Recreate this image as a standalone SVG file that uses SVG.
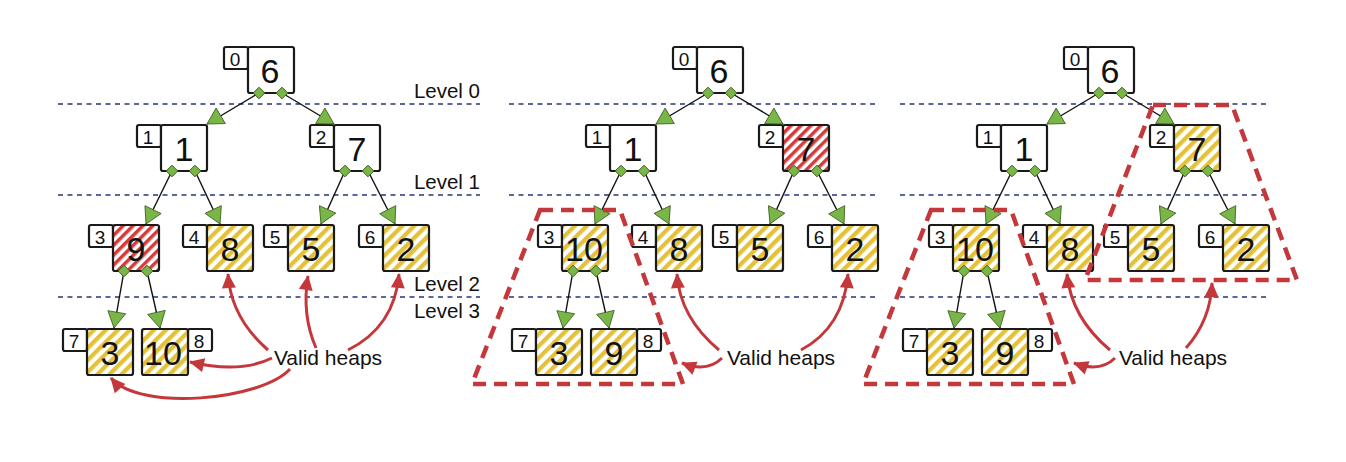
<svg xmlns="http://www.w3.org/2000/svg" width="1346" height="462" viewBox="0 0 1346 462">
<style>
.idx{fill:#fff;stroke:#1a1a1a;stroke-width:2.2}
.box{stroke:#1a1a1a;stroke-width:2.2}
.w{fill:#fff}
.y{fill:url(#hy)}
.r{fill:url(#hr)}
.it{font-family:"Liberation Sans",Arial,sans-serif;font-size:19px;fill:#111;text-anchor:middle}
.vt{font-family:"Liberation Sans",Arial,sans-serif;font-size:34px;fill:#111;text-anchor:middle}
.lbl{font-family:"Liberation Sans",Arial,sans-serif;font-size:20.5px;fill:#111;text-anchor:end}
.vh{font-family:"Liberation Sans",Arial,sans-serif;font-size:21px;fill:#111;text-anchor:middle}
.edge{stroke:#111;stroke-width:1.4;fill:none;marker-start:url(#dia);marker-end:url(#tri)}
.lvl{stroke:#27357a;stroke-width:1.6;stroke-dasharray:5 4.5;fill:none}
.ann{stroke:#c4373a;stroke-width:3;fill:none;marker-end:url(#rarr)}
.trap{stroke:#c4373a;stroke-width:4.5;stroke-dasharray:13 8;fill:none}
</style>
<defs>
<pattern id="hy" patternUnits="userSpaceOnUse" width="8.5" height="8.5" patternTransform="rotate(45)">
<rect width="8.5" height="8.5" fill="#fff"/><rect width="4.3" height="8.5" fill="#e3c23a"/>
</pattern>
<pattern id="hr" patternUnits="userSpaceOnUse" width="7" height="7" patternTransform="rotate(45)">
<rect width="7" height="7" fill="#fff"/><rect width="3.5" height="7" fill="#d23c3c"/>
</pattern>
<marker id="dia" markerUnits="userSpaceOnUse" viewBox="-7 -7 14 14" markerWidth="14" markerHeight="14" refX="0" refY="0" orient="0" overflow="visible">
<path d="M0,-5.8 L5.8,0 L0,5.8 L-5.8,0 Z" fill="#7ab547" stroke="#3b5f1f" stroke-width="1"/>
</marker>
<marker id="tri" markerUnits="userSpaceOnUse" viewBox="0 0 17 18" markerWidth="17" markerHeight="18" refX="16" refY="9" orient="auto" overflow="visible">
<path d="M0,0 L16,9 L0,18 Z" fill="#7ab547" stroke="#3b5f1f" stroke-width="0.8"/>
</marker>
<marker id="rarr" markerUnits="userSpaceOnUse" viewBox="0 0 15 14" markerWidth="15" markerHeight="14" refX="14" refY="7" orient="auto" overflow="visible">
<path d="M0,0 L15,7 L0,14 Z" fill="#c4373a"/>
</marker>
</defs>

<g id="level-lines">
<line class="lvl" x1="58" y1="104" x2="480" y2="104"/>
<line class="lvl" x1="58" y1="195" x2="480" y2="195"/>
<line class="lvl" x1="58" y1="297" x2="480" y2="297"/>
<line class="lvl" x1="509" y1="104" x2="878" y2="104"/>
<line class="lvl" x1="509" y1="195" x2="878" y2="195"/>
<line class="lvl" x1="509" y1="297" x2="878" y2="297"/>
<line class="lvl" x1="900" y1="104" x2="1268" y2="104"/>
<line class="lvl" x1="900" y1="195" x2="1268" y2="195"/>
<line class="lvl" x1="900" y1="297" x2="1268" y2="297"/>
</g>
<g id="level-labels">
<text class="lbl" x="480" y="98">Level 0</text>
<text class="lbl" x="480" y="189">Level 1</text>
<text class="lbl" x="480" y="291">Level 2</text>
<text class="lbl" x="480" y="318">Level 3</text>
</g>

<!-- Panel 1 -->
<g id="panel1">
<g id="p1-n0"><rect class="idx" x="224" y="47" width="24" height="22" rx="2"/><text class="it" x="235" y="66">0</text><rect class="box w" x="248" y="47" width="46" height="46" rx="2"/><text class="vt" x="270" y="83">6</text></g>
<g id="p1-n1"><rect class="idx" x="137" y="125" width="24" height="22" rx="2"/><text class="it" x="148" y="144">1</text><rect class="box w" x="161" y="125" width="46" height="46" rx="2"/><text class="vt" x="184" y="161">1</text></g>
<g id="p1-n2"><rect class="idx" x="310" y="125" width="24" height="22" rx="2"/><text class="it" x="321" y="144">2</text><rect class="box w" x="334" y="125" width="46" height="46" rx="2"/><text class="vt" x="357" y="161">7</text></g>
<g id="p1-n3"><rect class="idx" x="89" y="225" width="24" height="22" rx="2"/><text class="it" x="100" y="244">3</text><rect class="box r" x="113" y="225" width="46" height="46" rx="2"/><text class="vt" x="136" y="261">9</text></g>
<g id="p1-n4"><rect class="idx" x="183" y="225" width="24" height="22" rx="2"/><text class="it" x="194" y="244">4</text><rect class="box y" x="207" y="225" width="46" height="46" rx="2"/><text class="vt" x="230" y="261">8</text></g>
<g id="p1-n5"><rect class="idx" x="264" y="225" width="24" height="22" rx="2"/><text class="it" x="275" y="244">5</text><rect class="box y" x="288" y="225" width="46" height="46" rx="2"/><text class="vt" x="311" y="261">5</text></g>
<g id="p1-n6"><rect class="idx" x="359" y="225" width="24" height="22" rx="2"/><text class="it" x="370" y="244">6</text><rect class="box y" x="383" y="225" width="46" height="46" rx="2"/><text class="vt" x="406" y="261">2</text></g>
<g id="p1-n7"><rect class="idx" x="63" y="329" width="24" height="22" rx="2"/><text class="it" x="74" y="348">7</text><rect class="box y" x="87" y="329" width="46" height="46" rx="2"/><text class="vt" x="110" y="365">3</text></g>
<g id="p1-n8"><rect class="idx" x="188" y="329" width="24" height="22" rx="2"/><text class="it" x="199" y="348">8</text><rect class="box y" x="142" y="329" width="46" height="46" rx="2"/><text class="vt" x="163" y="365">10</text></g>
<g id="p1-edges">
<line class="edge" x1="259" y1="93" x2="207" y2="124"/>
<line class="edge" x1="282" y1="93" x2="334" y2="124"/>
<line class="edge" x1="172" y1="171" x2="146" y2="224"/>
<line class="edge" x1="195" y1="171" x2="220" y2="224"/>
<line class="edge" x1="345" y1="171" x2="321" y2="224"/>
<line class="edge" x1="368" y1="171" x2="395" y2="224"/>
<line class="edge" x1="124" y1="271" x2="114" y2="328"/>
<line class="edge" x1="147" y1="271" x2="160" y2="328"/>
</g>
<g id="p1-annotations">
<text class="vh" x="328" y="365">Valid heaps</text>
<path class="ann" d="M 268,350 C 245,330 230,305 228,274"/>
<path class="ann" d="M 316,348 C 306,325 304,300 308,276"/>
<path class="ann" d="M 348,350 C 378,335 396,310 399,274"/>
<path class="ann" d="M 272,358 C 250,369 220,369 190,362"/>
<path class="ann" d="M 290,369 C 262,400 140,412 111,378"/>
</g>
</g>

<!-- Panel 2 -->
<g id="panel2" transform="translate(449,0)">
<g id="p2-n0"><rect class="idx" x="224" y="47" width="24" height="22" rx="2"/><text class="it" x="235" y="66">0</text><rect class="box w" x="248" y="47" width="46" height="46" rx="2"/><text class="vt" x="270" y="83">6</text></g>
<g id="p2-n1"><rect class="idx" x="137" y="125" width="24" height="22" rx="2"/><text class="it" x="148" y="144">1</text><rect class="box w" x="161" y="125" width="46" height="46" rx="2"/><text class="vt" x="184" y="161">1</text></g>
<g id="p2-n2"><rect class="idx" x="310" y="125" width="24" height="22" rx="2"/><text class="it" x="321" y="144">2</text><rect class="box r" x="334" y="125" width="46" height="46" rx="2"/><text class="vt" x="357" y="161">7</text></g>
<g id="p2-n3"><rect class="idx" x="89" y="225" width="24" height="22" rx="2"/><text class="it" x="100" y="244">3</text><rect class="box y" x="113" y="225" width="46" height="46" rx="2"/><text class="vt" x="135" y="261">10</text></g>
<g id="p2-n4"><rect class="idx" x="183" y="225" width="24" height="22" rx="2"/><text class="it" x="194" y="244">4</text><rect class="box y" x="207" y="225" width="46" height="46" rx="2"/><text class="vt" x="230" y="261">8</text></g>
<g id="p2-n5"><rect class="idx" x="264" y="225" width="24" height="22" rx="2"/><text class="it" x="275" y="244">5</text><rect class="box y" x="288" y="225" width="46" height="46" rx="2"/><text class="vt" x="311" y="261">5</text></g>
<g id="p2-n6"><rect class="idx" x="359" y="225" width="24" height="22" rx="2"/><text class="it" x="370" y="244">6</text><rect class="box y" x="383" y="225" width="46" height="46" rx="2"/><text class="vt" x="406" y="261">2</text></g>
<g id="p2-n7"><rect class="idx" x="63" y="329" width="24" height="22" rx="2"/><text class="it" x="74" y="348">7</text><rect class="box y" x="87" y="329" width="46" height="46" rx="2"/><text class="vt" x="110" y="365">3</text></g>
<g id="p2-n8"><rect class="idx" x="188" y="329" width="24" height="22" rx="2"/><text class="it" x="199" y="348">8</text><rect class="box y" x="142" y="329" width="46" height="46" rx="2"/><text class="vt" x="165" y="365">9</text></g>
<g id="p2-edges">
<line class="edge" x1="259" y1="93" x2="207" y2="124"/>
<line class="edge" x1="282" y1="93" x2="334" y2="124"/>
<line class="edge" x1="172" y1="171" x2="146" y2="224"/>
<line class="edge" x1="195" y1="171" x2="220" y2="224"/>
<line class="edge" x1="345" y1="171" x2="321" y2="224"/>
<line class="edge" x1="368" y1="171" x2="395" y2="224"/>
<line class="edge" x1="124" y1="271" x2="114" y2="328"/>
<line class="edge" x1="147" y1="271" x2="160" y2="328"/>
</g>
<g id="p2-annotations">
<polygon class="trap" points="91,210 171,210 234,384 23,384"/>
<text class="vh" x="332" y="365">Valid heaps</text>
<path class="ann" d="M 270,350 C 246,330 230,305 228,274"/>
<path class="ann" d="M 273,358 C 262,369 248,369 233,363"/>
<path class="ann" d="M 352,350 C 380,335 396,310 399,274"/>
</g>
</g>

<!-- Panel 3 -->
<g id="panel3" transform="translate(840,0)">
<g id="p3-n0"><rect class="idx" x="224" y="47" width="24" height="22" rx="2"/><text class="it" x="235" y="66">0</text><rect class="box w" x="248" y="47" width="46" height="46" rx="2"/><text class="vt" x="270" y="83">6</text></g>
<g id="p3-n1"><rect class="idx" x="137" y="125" width="24" height="22" rx="2"/><text class="it" x="148" y="144">1</text><rect class="box w" x="161" y="125" width="46" height="46" rx="2"/><text class="vt" x="184" y="161">1</text></g>
<g id="p3-n2"><rect class="idx" x="310" y="125" width="24" height="22" rx="2"/><text class="it" x="321" y="144">2</text><rect class="box y" x="334" y="125" width="46" height="46" rx="2"/><text class="vt" x="357" y="161">7</text></g>
<g id="p3-n3"><rect class="idx" x="89" y="225" width="24" height="22" rx="2"/><text class="it" x="100" y="244">3</text><rect class="box y" x="113" y="225" width="46" height="46" rx="2"/><text class="vt" x="135" y="261">10</text></g>
<g id="p3-n4"><rect class="idx" x="183" y="225" width="24" height="22" rx="2"/><text class="it" x="194" y="244">4</text><rect class="box y" x="207" y="225" width="46" height="46" rx="2"/><text class="vt" x="230" y="261">8</text></g>
<g id="p3-n5"><rect class="idx" x="264" y="225" width="24" height="22" rx="2"/><text class="it" x="275" y="244">5</text><rect class="box y" x="288" y="225" width="46" height="46" rx="2"/><text class="vt" x="311" y="261">5</text></g>
<g id="p3-n6"><rect class="idx" x="359" y="225" width="24" height="22" rx="2"/><text class="it" x="370" y="244">6</text><rect class="box y" x="383" y="225" width="46" height="46" rx="2"/><text class="vt" x="406" y="261">2</text></g>
<g id="p3-n7"><rect class="idx" x="63" y="329" width="24" height="22" rx="2"/><text class="it" x="74" y="348">7</text><rect class="box y" x="87" y="329" width="46" height="46" rx="2"/><text class="vt" x="110" y="365">3</text></g>
<g id="p3-n8"><rect class="idx" x="188" y="329" width="24" height="22" rx="2"/><text class="it" x="199" y="348">8</text><rect class="box y" x="142" y="329" width="46" height="46" rx="2"/><text class="vt" x="165" y="365">9</text></g>
<g id="p3-edges">
<line class="edge" x1="259" y1="93" x2="207" y2="124"/>
<line class="edge" x1="282" y1="93" x2="334" y2="124"/>
<line class="edge" x1="172" y1="171" x2="146" y2="224"/>
<line class="edge" x1="195" y1="171" x2="220" y2="224"/>
<line class="edge" x1="345" y1="171" x2="321" y2="224"/>
<line class="edge" x1="368" y1="171" x2="395" y2="224"/>
<line class="edge" x1="124" y1="271" x2="114" y2="328"/>
<line class="edge" x1="147" y1="271" x2="160" y2="328"/>
</g>
<g id="p3-annotations">
<polygon class="trap" points="91,210 171,210 234,384 23,384"/>
<polygon class="trap" points="313,105 392,105 457,280 245,280"/>
<text class="vh" x="333" y="365">Valid heaps</text>
<path class="ann" d="M 270,350 C 246,330 230,305 227,274"/>
<path class="ann" d="M 275,358 C 264,369 250,369 234,363"/>
<path class="ann" d="M 346,348 C 362,330 371,310 372,283"/>
</g>
</g>
</svg>
